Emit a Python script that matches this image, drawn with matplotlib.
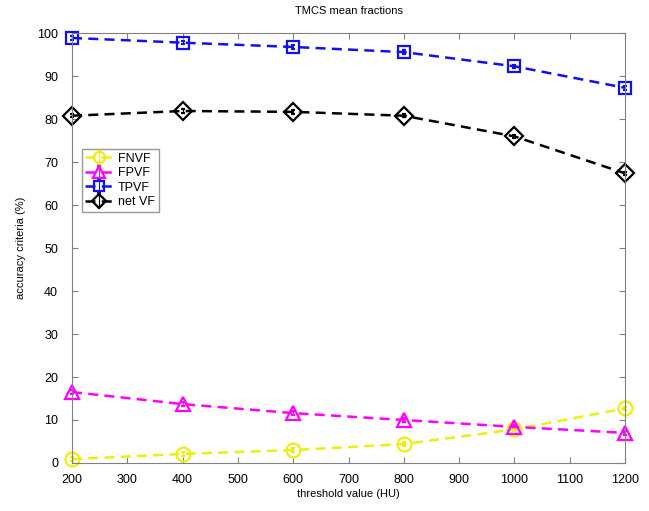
import matplotlib.pyplot as plt
import numpy as np

plt.rcParams['font.family'] = ['Liberation Sans', 'DejaVu Sans']

x = [200, 400, 600, 800, 1000, 1200]
fnvf = [0.9, 2.1, 3.0, 4.4, 7.8, 12.7]
fpvf = [16.5, 13.7, 11.6, 10.0, 8.4, 7.0]
tpvf = [98.9, 97.8, 96.8, 95.6, 92.3, 87.3]
netvf = [80.8, 81.9, 81.7, 80.8, 76.0, 67.4]
err = [0.4, 0.4, 0.4, 0.4, 0.4, 0.4]

fig = plt.figure(figsize=(6.49, 5.11), dpi=100)
ax = fig.add_axes([0.111, 0.094, 0.852, 0.841])

series = [
    (fnvf, "o", "#eeee10", 10, "FNVF"),
    (fpvf, "^", "#ff00ff", 10, "FPVF"),
    (tpvf, "s", "#1010f0", 9, "TPVF"),
    (netvf, "D", "black", 9, "net VF"),
]
for y, m, c, ms, lab in series:
    ax.errorbar(x, y, yerr=err, fmt=m + "--", color=c, mfc="none", ms=ms, mew=1.6,
                lw=1.8, elinewidth=0.8, capsize=1.5, dashes=(4, 2.5), label=lab, clip_on=False)

ax.set_xlim(200, 1200)
ax.set_ylim(0, 100)
ax.set_xticks(np.arange(200, 1201, 100))
ax.set_yticks(np.arange(0, 101, 10))
ax.tick_params(direction="in", top=True, right=True, labelsize=9, length=4, color="#808080")
ax.tick_params(axis="y", pad=10)
ax.tick_params(axis="x", pad=8)
for s in ax.spines.values():
    s.set_color("#808080")

ax.set_title("TMCS mean fractions", fontsize=8, pad=14)
ax.set_xlabel("threshold value (HU)", fontsize=8, labelpad=2)
ax.set_ylabel("accuracy criteria (%)", fontsize=8, labelpad=8)

ax.legend(loc="upper left", bbox_to_anchor=(0.006, 0.745), fontsize=9, frameon=True,
          fancybox=False, edgecolor="#808080", borderpad=0.3, labelspacing=0.2,
          handlelength=2.2, handletextpad=0.4, markerscale=0.8)

fig.savefig("out.png", dpi=100)
